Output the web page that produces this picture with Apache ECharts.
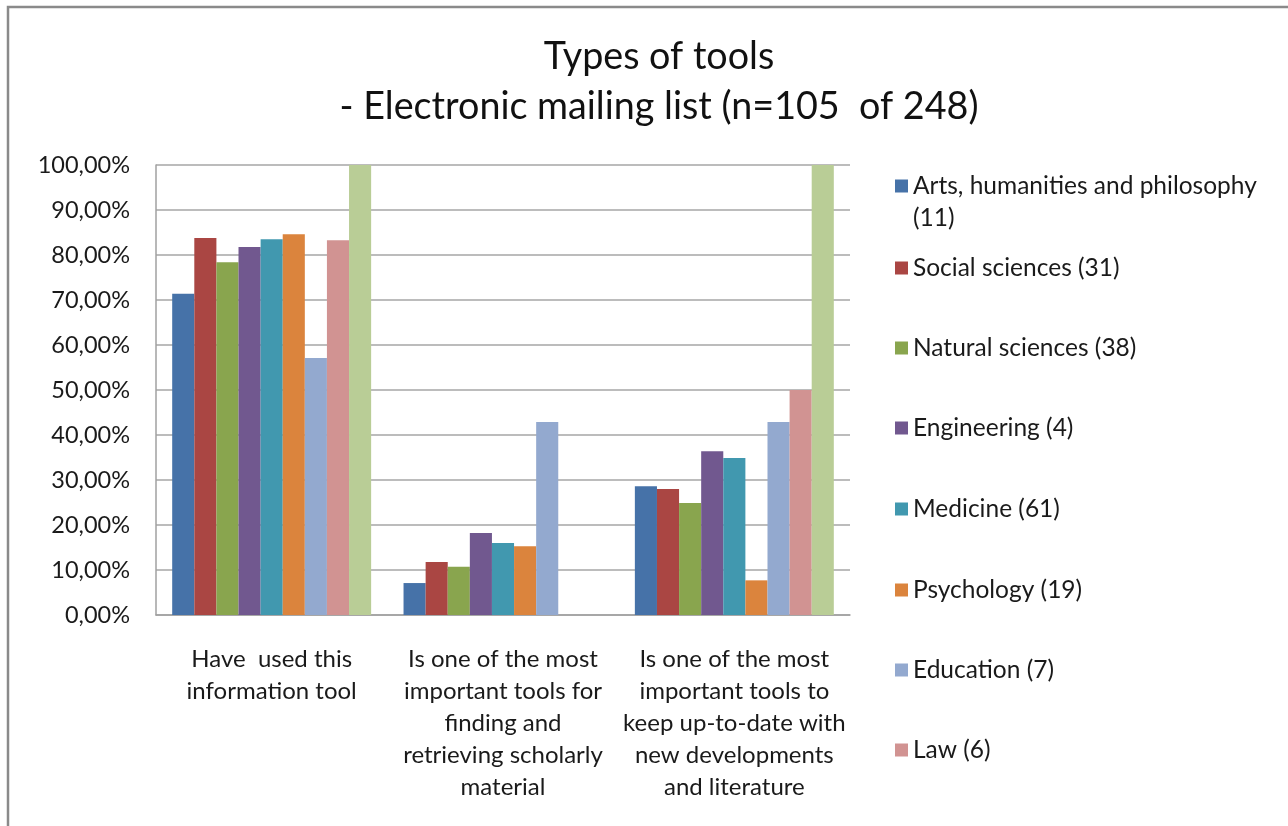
<!DOCTYPE html>
<html>
<head>
<meta charset="utf-8">
<title>Types of tools - Electronic mailing list</title>
<script src="https://cdn.jsdelivr.net/npm/echarts@6/dist/echarts.min.js"></script>
<style>
  html, body { margin: 0; padding: 0; background: #fff; }
  #chart { width: 1288px; height: 826px; }
</style>
</head>
<body>
<div id="chart"></div>
<script>
var categories = [
	'Have  used this\ninformation tool',
	'Is one of the most\nimportant tools for\nfinding and\nretrieving scholarly\nmaterial',
	'Is one of the most\nimportant tools to\nkeep up-to-date with\nnew developments\nand literature'
];

var seriesNames = [
	'Arts, humanities and philosophy (11)',
	'Social sciences (31)',
	'Natural sciences (38)',
	'Engineering (4)',
	'Medicine (61)',
	'Psychology (19)',
	'Education (7)',
	'Law (6)',
	'Other'
];

// percentages
var artsValues        = [71.4,  7.1, 28.6];
var socialValues      = [83.8, 11.8, 28.0];
var naturalValues     = [78.4, 10.7, 24.9];
var engineeringValues = [81.8, 18.2, 36.4];
var medicineValues    = [83.5, 16.0, 34.9];
var psychologyValues  = [84.6, 15.3,  7.7];
var educationValues   = [57.1, 42.9, 42.9];
var lawValues         = [83.3,  0.0, 50.0];
var otherValues       = [100,   0.0, 100];

var yTicks = [0, 10, 20, 30, 40, 50, 60, 70, 80, 90, 100];

var allValues = [artsValues, socialValues, naturalValues, engineeringValues,
	medicineValues, psychologyValues, educationValues, lawValues, otherValues];

var colors = ['#4672A8', '#AA4643', '#89A54E', '#71588F', '#4198AF',
	'#DB843D', '#93A9CF', '#D19392', '#B9CD96'];

var fontName = 'Lato';

var myChart = echarts.init(document.getElementById('chart'));

// one legend per item so the spacing can follow the picture
var legendCenters = [186, 267, 347, 427, 508, 589, 669, 749];
var legends = [];
for (var i = 0; i < 8; i++) {
	var first = i === 0;
	legends.push({
		orient: 'vertical',
		left: 895,
		top: first ? legendCenters[i] - 48 : legendCenters[i] - 15,
		padding: 0,
		data: [seriesNames[i]],
		icon: 'rect',
		itemWidth: 13,
		itemHeight: 13,
		selectedMode: false,
		textStyle: {
			fontFamily: fontName,
			fontSize: 24.5,
			color: '#1a1a1a',
			lineHeight: 32
		},
		formatter: first ? function(name){
			// blank first line keeps the key on the first text line
			return ' \n' + name.replace(' (11)', '') + '\n(11)';
		} : '{name}'
	});
}

var series = [];
for (var i = 0; i < seriesNames.length; i++) {
	series.push({
		name: seriesNames[i],
		type: 'bar',
		data: allValues[i],
		barGap: '0%',
		barCategoryGap: '14%',
		itemStyle: { color: colors[i] }
	});
}

var option = {
	animation: false,
	backgroundColor: '#fff',
	title: {
		text: 'Types of tools\n- Electronic mailing list (n=105  of 248)',
		left: 654,
		textAlign: 'center',
		top: 27,
		textStyle: {
			fontFamily: fontName,
			fontSize: 37.7,
			fontWeight: 'normal',
			color: '#111',
			lineHeight: 50
		}
	},
	legend: legends,
	grid: {
		left: 156,
		right: 438,
		top: 165,
		bottom: 211
	},
	xAxis: {
		type: 'category',
		data: categories,
		axisTick: { show: false },
		axisLine: { lineStyle: { color: '#a0a0a0', width: 1.5 } },
		axisLabel: {
			interval: 0,
			margin: 28,
			fontFamily: fontName,
			fontSize: 24,
			color: '#1a1a1a',
			lineHeight: 32,
			align: 'center'
		}
	},
	yAxis: {
		type: 'value',
		min: yTicks[0],
		max: yTicks[yTicks.length - 1],
		interval: 10,
		axisLine: { show: true, lineStyle: { color: '#a0a0a0', width: 1.5 } },
		axisTick: { show: false },
		splitLine: { lineStyle: { color: '#a6a6a6', width: 1.5 } },
		axisLabel: {
			margin: 26,
			fontFamily: fontName,
			fontSize: 23.5,
			color: '#1a1a1a',
			formatter: function(v){ return v + ',00%'; }
		}
	},
	graphic: [{
		type: 'rect',
		shape: { x: 8, y: 7, width: 1400, height: 900 },
		style: { fill: 'none', stroke: '#8a8a8a', lineWidth: 2.5 },
		silent: true
	}],
	series: series
};

myChart.setOption(option);
</script>
</body>
</html>
